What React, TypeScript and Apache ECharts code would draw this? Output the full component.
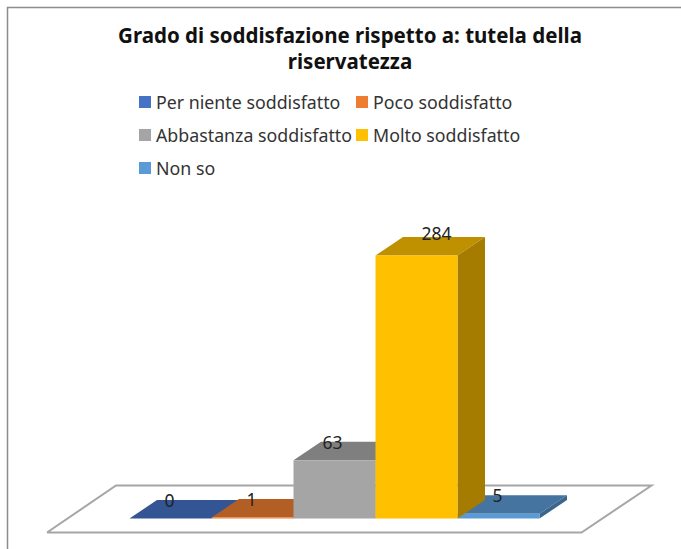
import React, { useEffect, useRef } from "react";
import * as echarts from "echarts";

const categories = ["Per niente soddisfatto", "Poco soddisfatto", "Abbastanza soddisfatto", "Molto soddisfatto", "Non so"];
const values = [0, 1, 63, 284, 5];
const frontColors = ["#4472C4", "#ED7D31", "#A5A5A5", "#FFC000", "#5B9BD5"];
const topColors = ["#335593", "#B25E24", "#7F7F7F", "#BF9000", "#44749F"];
const sideColors = ["#2B4A80", "#9A4F1E", "#6E6E6E", "#A67C00", "#3A658C"];
const titleText = "Grado di soddisfazione rispetto a: tutela della\nriservatezza";
const FONT = "'Noto Sans', sans-serif";

const DEPTH_X = 27.5;
const DEPTH_Y = -18.5;

const legendSlots = [
  { left: 139, top: 93 },
  { left: 356, top: 93 },
  { left: 139, top: 126 },
  { left: 356, top: 126 },
  { left: 139, top: 159 },
];

export default function App() {
  const ref = useRef<HTMLDivElement>(null);
  useEffect(() => {
    const chart = echarts.init(ref.current!, undefined, { renderer: "svg" });
    const renderBar = (params: any, api: any) => {
      const cat = api.value(0);
      const val = api.value(1);
      const i = params.seriesIndex;
      const [cx, yTop] = api.coord([cat, val]);
      const [, yBase] = api.coord([cat, 0]);
      const w = (api.size([1, 0]) as number[])[0];
      const x0 = cx - w / 2;
      const x1 = cx + w / 2;
      const poly = (points: number[][], fill: string) => ({
        type: "polygon",
        shape: { points },
        style: { fill },
      });
      return {
        type: "group",
        children: [
          poly([[x0, yTop], [x1, yTop], [x1 + DEPTH_X, yTop + DEPTH_Y], [x0 + DEPTH_X, yTop + DEPTH_Y]], topColors[i]),
          poly([[x1, yBase], [x1, yTop], [x1 + DEPTH_X, yTop + DEPTH_Y], [x1 + DEPTH_X, yBase + DEPTH_Y]], sideColors[i]),
          {
            type: "rect",
            shape: { x: x0, y: yTop, width: w, height: yBase - yTop },
            style: { fill: frontColors[i] },
          },
          {
            type: "text",
            z2: 10,
            style: {
              text: String(val),
              x: cx + (val > 100 ? 20 : val > 50 ? -2 : -1),
              y: yTop + DEPTH_Y + (val > 100 ? -4 : 0),
              align: "center",
              verticalAlign: "middle",
              fontSize: 17.5,
              fontFamily: FONT,
              fill: "#222222",
            },
          },
        ],
      };
    };
    chart.setOption({
      animation: false,
      backgroundColor: "#ffffff",
      title: {
        text: titleText,
        left: 345,
        top: 17,
        textAlign: "center",
        textStyle: { fontSize: 20.5, fontWeight: "bold", lineHeight: 26, color: "#111111", fontFamily: FONT },
      },
      legend: categories.map((name, i) => ({
        data: [{ name, icon: "rect", itemStyle: { color: frontColors[i] } }],
        left: legendSlots[i].left,
        top: legendSlots[i].top,
        itemWidth: 12,
        itemHeight: 12,
        itemGap: 0,
        padding: 0,
        selectedMode: false,
        textStyle: { fontSize: 17.8, color: "#333333", fontFamily: FONT, padding: [0, 0, 0, 0] },
      })),
      grid: { left: 129.5, width: 410, top: 240.7, height: 277.8 },
      xAxis: { type: "category", data: categories, show: false },
      yAxis: { type: "value", min: 0, max: 300, show: false },
      graphic: [
        { type: "polyline", shape: { points: [[47, 532.5], [116, 485.5], [651.5, 485.5], [581.5, 532.5], [47, 532.5]] }, style: { stroke: "#A6A6A6", lineWidth: 2, fill: "#ffffff" }, z: 0 },
        { type: "polyline", shape: { points: [[7.5, 549], [7.5, 7.5], [681, 7.5]] }, style: { stroke: "#8C8C8C", lineWidth: 1.5, fill: "none" }, z: 0 },
      ],
      series: categories.map((name, i) => ({
        type: "custom",
        name,
        z: i === 3 ? 8 : 2 + i,
        itemStyle: { color: frontColors[i] },
        data: [[i, values[i]]],
        encode: { x: 0, y: 1 },
        clip: false,
        renderItem: renderBar,
      })),
    });
    return () => chart.dispose();
  }, []);
  return <div ref={ref} style={{ position: "absolute", left: 0, top: 0, width: 681, height: 549 }} />;
}
